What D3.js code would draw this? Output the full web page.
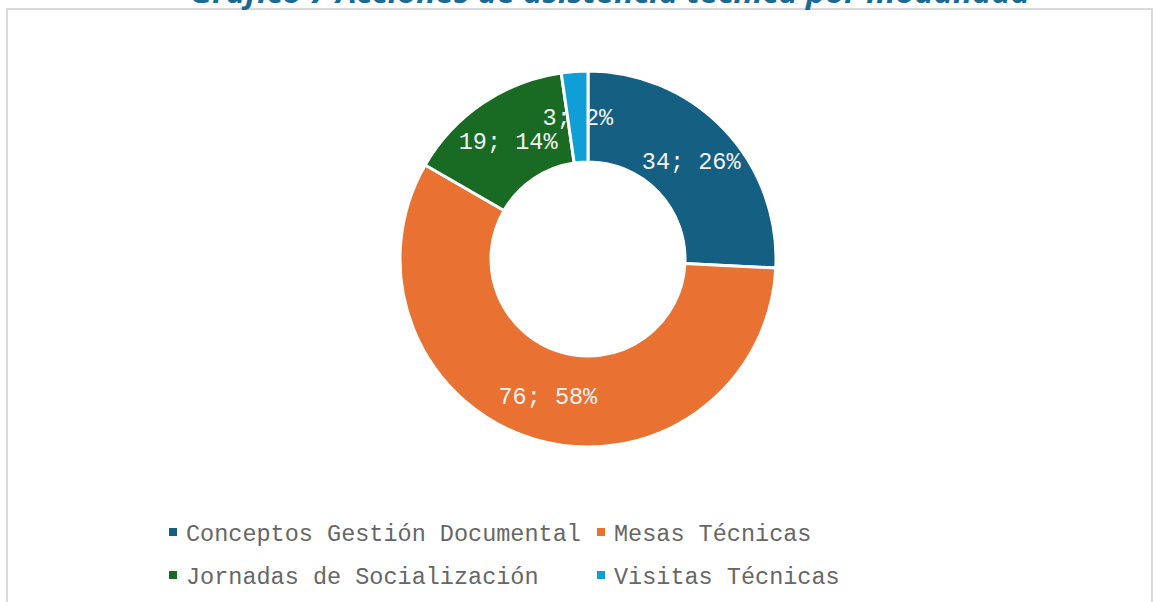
<!doctype html>
<html>
<head>
<meta charset="utf-8">
<style>
	body {
		margin: 0;
		background: #fff;
	}
	#chart-title {
		font: italic bold 28px "Open Sans", sans-serif;
		fill: #1b6a93;
	}
	.lbl {
		font: 23.5px "Liberation Mono", "Courier New", monospace;
		fill: #f2f2f2;
	}
	.lgd text {
		font: 23.5px "Liberation Mono", "Courier New", monospace;
		fill: #666666;
	}
</style>
<script src="https://d3js.org/d3.v7.min.js"></script>
</head>
<body>
<div id="canvas"></div>
<script>
	var categories = ["Conceptos Gestión Documental", "Mesas Técnicas", "Jornadas de Socialización", "Visitas Técnicas"];
	var values = [34, 76, 19, 3];
	var percents = ["26%", "58%", "14%", "2%"];
	var colors = ["#156082", "#e97132", "#196b24", "#0f9ed5"];
	var title = "Gráfico 7 Acciones de asistencia técnica por modalidad";

	var width = 1154,
		height = 602,
		cx = 588,
		cy = 259,
		outer = 188,
		inner = 97;

	var svg = d3.select("#canvas")
		.append("svg")
		.attr("width", width)
		.attr("height", height);

	// chart frame (bottom edge falls outside the picture)
	svg.append("rect")
		.attr("x", 7)
		.attr("y", 9)
		.attr("width", 1145)
		.attr("height", 620)
		.attr("fill", "none")
		.attr("stroke", "#d9d9d9")
		.attr("stroke-width", 2);

	// title sits above the frame, mostly cut off as in the source
	svg.append("text")
		.attr("id", "chart-title")
		.attr("x", 610)
		.attr("y", 3)
		.attr("text-anchor", "middle")
		.attr("textLength", 840)
		.attr("lengthAdjust", "spacingAndGlyphs")
		.text(title);

	var pie = d3.pie().sort(null).value(d => d);
	var arcs = pie(values);

	var arc = d3.arc().innerRadius(inner).outerRadius(outer);
	var labelArc = d3.arc().innerRadius((inner + outer) / 2).outerRadius((inner + outer) / 2);

	var g = svg.append("g")
		.attr("transform", `translate(${cx}, ${cy})`);

	g.selectAll("path")
		.data(arcs)
	  .enter().append("path")
		.attr("d", arc)
		.attr("fill", (d, i) => colors[i])
		.attr("stroke", "#fff")
		.attr("stroke-width", 3);

	g.selectAll("text.lbl")
		.data(arcs)
	  .enter().append("text")
		.attr("class", "lbl")
		.attr("transform", d => `translate(${labelArc.centroid(d)})`)
		.attr("text-anchor", "middle")
		.attr("dy", "0.35em")
		.text((d, i) => `${values[i]}; ${percents[i]}`);

	// legend, two columns
	var lgd = svg.append("g").attr("class", "lgd");
	var colX = [169, 597],
		rowY = [541, 584];

	var item = lgd.selectAll("g")
		.data(categories)
	  .enter().append("g")
		.attr("transform", (d, i) => `translate(${colX[i % 2]}, ${rowY[Math.floor(i / 2)]})`);

	item.append("rect")
		.attr("x", 0)
		.attr("y", -13)
		.attr("width", 8)
		.attr("height", 8)
		.attr("fill", (d, i) => colors[i]);

	item.append("text")
		.attr("x", 17)
		.attr("y", 0)
		.text(d => d);
</script>
</body>
</html>
